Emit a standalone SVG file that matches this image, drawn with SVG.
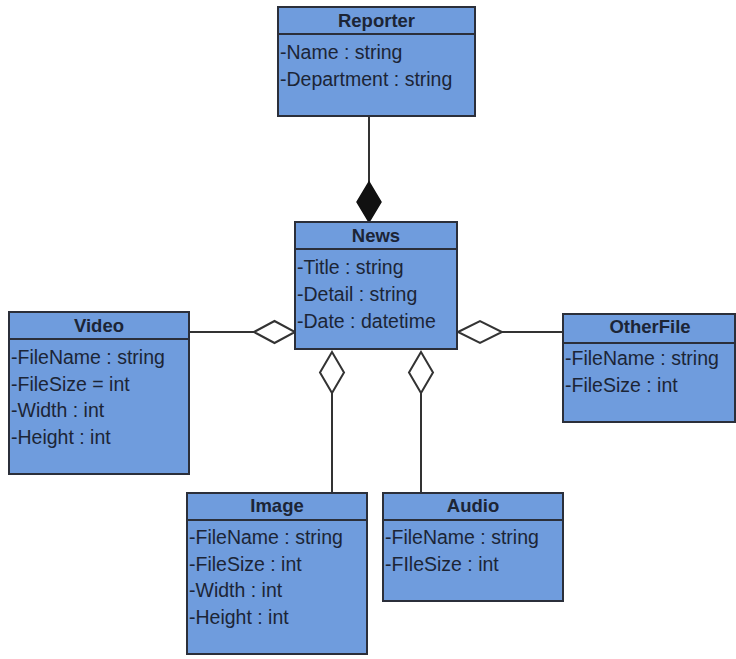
<svg xmlns="http://www.w3.org/2000/svg" width="736" height="659" viewBox="0 0 736 659">
<style>
.box{fill:#6f9cdd;stroke:#2b2f3a;stroke-width:2}
.div{stroke:#2b2f3a;stroke-width:2}
.title{font-family:"Liberation Sans",Arial,sans-serif;font-weight:bold;font-size:18.5px;fill:#1c2536;text-anchor:middle}
.attr{font-family:"Liberation Sans",Arial,sans-serif;font-size:19.5px;fill:#1c2536}
.line{stroke:#333;stroke-width:2;fill:none}
.hollow{fill:#ffffff;stroke:#333;stroke-width:2}
.filled{fill:#111;stroke:#111;stroke-width:1.5}
</style>
<rect width="736" height="659" fill="#ffffff"/>
<g id="connectors">
<line class="line" x1="369" y1="116" x2="369" y2="182"/>
<polygon class="filled" points="369,182 381,202 369,222 357,202"/>
<line class="line" x1="189" y1="332" x2="254" y2="332"/>
<polygon class="hollow" points="254,332 274.5,321 295,332 274.5,343"/>
<line class="line" x1="502" y1="332" x2="563" y2="332"/>
<polygon class="hollow" points="458,332 480,321 502,332 480,343"/>
<line class="line" x1="332" y1="393" x2="332" y2="493"/>
<polygon class="hollow" points="332,352 344,372.5 332,393 320,372.5"/>
<line class="line" x1="421" y1="393" x2="421" y2="493"/>
<polygon class="hollow" points="421,352 433,372.5 421,393 409,372.5"/>
</g>
<g id="Reporter">
<rect class="box" x="278" y="7" width="197" height="109"/>
<line class="div" x1="278" y1="34" x2="475" y2="34"/>
<text class="title" x="376.5" y="27">Reporter</text>
<text class="attr" x="280" y="59">-Name : string</text>
<text class="attr" x="280" y="86">-Department : string</text>
</g>
<g id="News">
<rect class="box" x="295" y="222" width="162" height="127"/>
<line class="div" x1="295" y1="249" x2="457" y2="249"/>
<text class="title" x="376" y="242">News</text>
<text class="attr" x="297" y="274">-Title : string</text>
<text class="attr" x="297" y="301">-Detail : string</text>
<text class="attr" x="297" y="328">-Date : datetime</text>
</g>
<g id="Video">
<rect class="box" x="9" y="312" width="180" height="162"/>
<line class="div" x1="9" y1="339" x2="189" y2="339"/>
<text class="title" x="99" y="332">Video</text>
<text class="attr" x="11" y="364">-FileName : string</text>
<text class="attr" x="11" y="391">-FileSize = int</text>
<text class="attr" x="11" y="417">-Width : int</text>
<text class="attr" x="11" y="444">-Height : int</text>
</g>
<g id="OtherFile">
<rect class="box" x="563" y="314" width="172" height="108"/>
<line class="div" x1="563" y1="343" x2="735" y2="343"/>
<text class="title" x="650" y="333">OtherFile</text>
<text class="attr" x="565" y="365">-FileName : string</text>
<text class="attr" x="565" y="392">-FileSize : int</text>
</g>
<g id="Image">
<rect class="box" x="187" y="493" width="180" height="161"/>
<line class="div" x1="187" y1="520" x2="367" y2="520"/>
<text class="title" x="277" y="512">Image</text>
<text class="attr" x="189" y="544">-FileName : string</text>
<text class="attr" x="189" y="571">-FileSize : int</text>
<text class="attr" x="189" y="597">-Width : int</text>
<text class="attr" x="189" y="624">-Height : int</text>
</g>
<g id="Audio">
<rect class="box" x="383" y="493" width="180" height="108"/>
<line class="div" x1="383" y1="520" x2="563" y2="520"/>
<text class="title" x="473" y="512">Audio</text>
<text class="attr" x="385" y="544">-FileName : string</text>
<text class="attr" x="385" y="571">-FIleSize : int</text>
</g>
</svg>
